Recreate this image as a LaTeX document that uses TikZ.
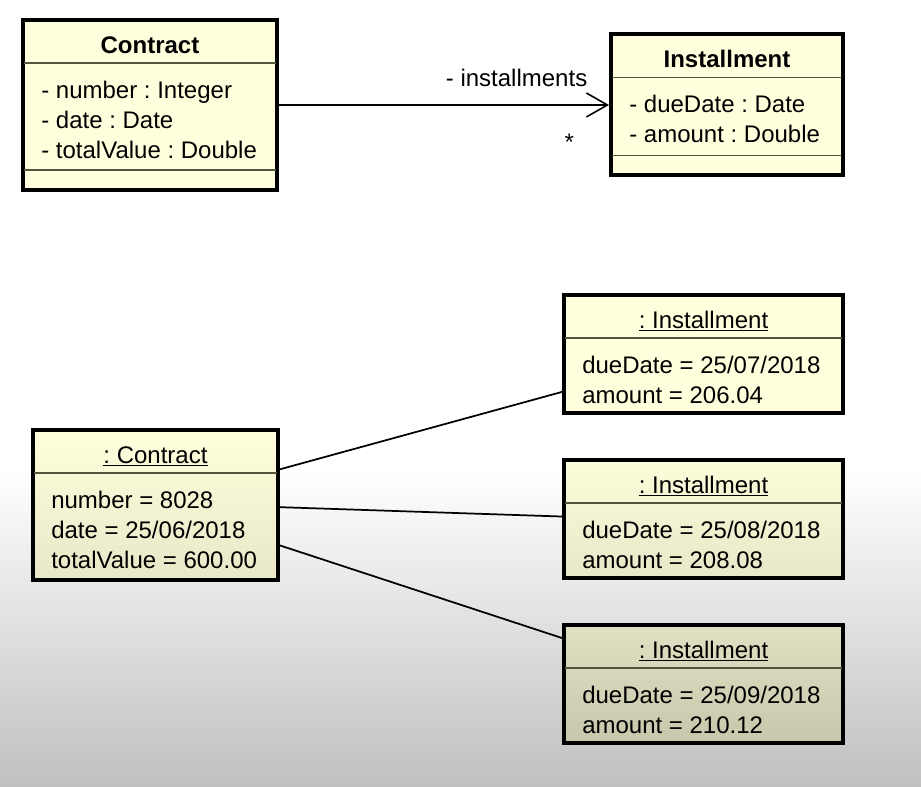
\documentclass[tikz,border=0pt]{standalone}
\usepackage{fontspec}
\setmainfont{Liberation Sans}
\usetikzlibrary{arrows.meta,positioning,calc}

\definecolor{umlfill}{HTML}{FFFFDD}
\definecolor{umlrule}{HTML}{55553F}
\definecolor{fadegray}{HTML}{C0C0C0}
\newcommand{\umlfont}{\fontsize{18pt}{22.5pt}\selectfont\frenchspacing}

\begin{document}
\begin{tikzpicture}[
  x=0.75pt, y=-0.75pt,
  every node/.style={font=\umlfont},
  box/.style={draw, line width=3pt, fill=umlfill, inner sep=0pt},
  title/.style={anchor=base, inner sep=0pt},
  attrs/.style={anchor=base west, align=left, inner sep=0pt},
  rule/.style={draw=umlrule, line width=1.2pt},
  assoc/.style={line width=1.2pt, -{Straight Barb[length=15.75pt, width=18pt]}},
  link/.style={line width=1.3pt}
]
% canvas
\useasboundingbox (0,0) rectangle (921,787);
\fill[white] (0,0) rectangle (921,470);
\shade[top color=white, bottom color=fadegray] (0,470) rectangle (921,787);

% class diagram
\node[box, minimum width=190.5pt, minimum height=127.5pt] (ccls) at (150,105) {};
\node[box, minimum width=174pt, minimum height=105.75pt, right=247.5pt of ccls] (icls) {};

% base of a multi-line node is its last line
\node[title] (ccls-name) at ($(ccls.north)+(0,35.5)$) {\textbf{Contract}};
\node[attrs] (ccls-attrs) at ($(ccls.north west)+(20,140.5)$) {- number : Integer\\- date : Date\\- totalValue : Double};
\draw[rule] ($(ccls.north west)+(3,45)$) -- ($(ccls.north east)+(-3,45)$);
\draw[rule] ($(ccls.south west)+(3,-22)$) -- ($(ccls.south east)+(-3,-22)$);

\node[title] (icls-name) at ($(icls.north)+(0,35.5)$) {\textbf{Installment}};
\node[attrs] (icls-attrs) at ($(icls.north west)+(20,110.5)$) {- dueDate : Date\\- amount : Double};
\draw[rule] ($(icls.north west)+(3,45)$) -- ($(icls.north east)+(-3,45)$);
\draw[rule] ($(icls.south west)+(3,-22)$) -- ($(icls.south east)+(-3,-22)$);

\draw[assoc] (ccls) -- node[pos=0.72, anchor=base, yshift=13.9pt] (role) {- installments}
  node[pos=0.88, anchor=base, yshift=-34pt] (mult) {*} (icls);

% object diagram
\node[box, minimum width=183.75pt, minimum height=112.5pt,
  top color=umlfill, bottom color=umlfill!91!black] (ocon) at (155.5,505) {};
\node[box, minimum width=209.25pt, minimum height=88.5pt] (inst1) at (703.5,354) {};
\node[box, minimum width=209.25pt, minimum height=88.5pt, below=32.25pt of inst1,
  top color=umlfill!99!black, bottom color=umlfill!91!black] (inst2) {};
\node[box, minimum width=209.25pt, minimum height=88.5pt, below=32.25pt of inst2,
  top color=umlfill!88!black, bottom color=umlfill!78!black] (inst3) {};

\node[title] (ocon-name) at ($(ocon.north)+(0,35.5)$) {\underline{: Contract}};
\node[attrs] (ocon-attrs) at ($(ocon.north west)+(20,140.5)$) {number = 8028\\date = 25/06/2018\\totalValue = 600.00};
\draw[rule] ($(ocon.north west)+(3,45)$) -- ($(ocon.north east)+(-3,45)$);

\node[title] (inst1-name) at ($(inst1.north)+(0,35.5)$) {\underline{: Installment}};
\node[attrs] (inst1-attrs) at ($(inst1.north west)+(20,110.5)$) {dueDate = 25/07/2018\\amount = 206.04};
\draw[rule] ($(inst1.north west)+(3,45)$) -- ($(inst1.north east)+(-3,45)$);

\node[title] (inst2-name) at ($(inst2.north)+(0,35.5)$) {\underline{: Installment}};
\node[attrs] (inst2-attrs) at ($(inst2.north west)+(20,110.5)$) {dueDate = 25/08/2018\\amount = 208.08};
\draw[rule] ($(inst2.north west)+(3,45)$) -- ($(inst2.north east)+(-3,45)$);

\node[title] (inst3-name) at ($(inst3.north)+(0,35.5)$) {\underline{: Installment}};
\node[attrs] (inst3-attrs) at ($(inst3.north west)+(20,110.5)$) {dueDate = 25/09/2018\\amount = 210.12};
\draw[rule] ($(inst3.north west)+(3,45)$) -- ($(inst3.north east)+(-3,45)$);

\draw[link] (ocon.16) -- (inst1.195);
\draw[link] (ocon.-1) -- (inst2.179);
\draw[link] (ocon.-18) -- (inst3.162);
\end{tikzpicture}
\end{document}
